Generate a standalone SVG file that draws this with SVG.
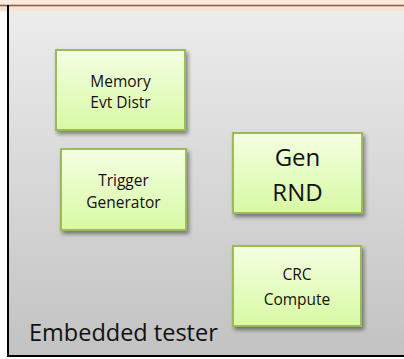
<svg xmlns="http://www.w3.org/2000/svg" width="404" height="359" viewBox="0 0 404 359">
  <defs>
    <linearGradient id="panelFill" x1="0" y1="0" x2="0" y2="1">
      <stop offset="0" stop-color="#ececec"/>
      <stop offset="1" stop-color="#c2c2c2"/>
    </linearGradient>
    <linearGradient id="blockFill" x1="0" y1="0" x2="0" y2="1">
      <stop offset="0" stop-color="#f4ffe2"/>
      <stop offset="1" stop-color="#d8f9a4"/>
    </linearGradient>
    <filter id="drop" x="-20%" y="-20%" width="150%" height="150%">
      <feGaussianBlur in="SourceAlpha" stdDeviation="2"/>
      <feOffset dx="2" dy="3" result="b"/>
      <feComponentTransfer><feFuncA type="linear" slope="0.45"/></feComponentTransfer>
      <feMerge><feMergeNode/><feMergeNode in="SourceGraphic"/></feMerge>
    </filter>
  </defs>
  <style>
    .block { fill: url(#blockFill); stroke: #9bbb59; stroke-width: 2; filter: url(#drop); }
    .lbl { font-family: "Open Sans", Lato, sans-serif; fill: #111; text-anchor: middle; }
    .sm { font-size: 15.5px; }
    .lg { font-size: 24px; }
  </style>

  <!-- header strip -->
  <rect x="0" y="0" width="404" height="11" fill="#fde9d9"/>
  <rect x="0" y="6.3" width="404" height="5" fill="#fae2d2"/>
  <rect x="0" y="4.7" width="404" height="1.6" fill="#7f6552"/>

  <!-- tester panel -->
  <g id="panel">
    <rect x="8" y="11" width="396" height="346" fill="url(#panelFill)"/>
    <line x1="8" y1="5" x2="8" y2="357" stroke="#000" stroke-width="2"/>
    <line x1="7" y1="356" x2="404" y2="356" stroke="#000" stroke-width="2"/>
    <text x="29" y="341" font-family="'Open Sans', Lato, sans-serif" font-size="23.5" fill="#111">Embedded tester</text>
  </g>

  <g id="connectors"/>

  <g id="memory-evt-distr">
    <rect class="block" x="56" y="50" width="129" height="80"/>
    <text class="lbl sm" x="120.5" y="87">Memory</text>
    <text class="lbl sm" x="120.5" y="108">Evt Distr</text>
  </g>

  <g id="trigger-generator">
    <rect class="block" x="61" y="149" width="125" height="81"/>
    <text class="lbl sm" x="123.5" y="186">Trigger</text>
    <text class="lbl sm" x="123.5" y="208">Generator</text>
  </g>

  <g id="gen-rnd">
    <rect class="block" x="233" y="133" width="129" height="80"/>
    <text class="lbl lg" x="297.5" y="166">Gen</text>
    <text class="lbl lg" x="297.5" y="201">RND</text>
  </g>

  <g id="crc-compute">
    <rect class="block" x="233" y="246" width="128" height="80"/>
    <text class="lbl sm" x="297" y="280">CRC</text>
    <text class="lbl sm" x="297" y="305">Compute</text>
  </g>
</svg>
